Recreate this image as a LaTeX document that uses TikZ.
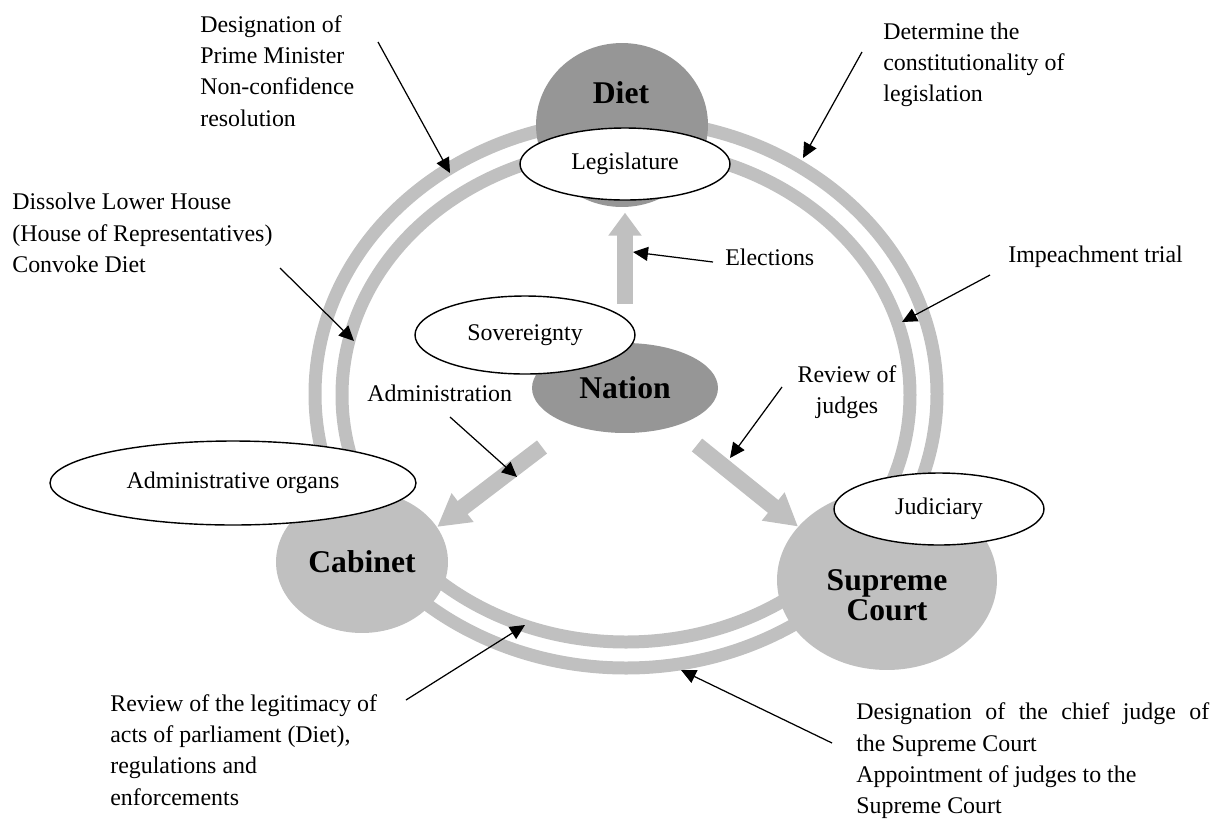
\documentclass[tikz,border=0pt]{standalone}
\usepackage{fontspec}
\setmainfont{Liberation Serif}
\usetikzlibrary{arrows.meta,shapes.geometric}

\definecolor{organdark}{RGB}{150,150,150}
\definecolor{organlight}{RGB}{192,192,192}

\tikzset{
  organ/.style={ellipse, inner sep=0pt, fill=#1, font=\fontsize{18}{17}\selectfont\bfseries, align=center},
  organname/.style={inner sep=0pt, font=\fontsize{18}{17}\selectfont\bfseries, align=center},
  role/.style={ellipse, inner sep=0pt, draw, line width=0.8pt, fill=white},
  ring/.style={draw=organlight, line width=0.26cm},
  power/.style={draw=organlight, line width=0.33cm, -{Triangle[length=0.64cm,width=0.68cm]}},
  note/.style={line width=0.7pt, -{Triangle[length=0.3cm,width=0.28cm]}},
  remark/.style={inner sep=0pt, align=left, anchor=west},
}

\begin{document}
\begin{tikzpicture}[x=0.02cm, y=-0.02cm, font=\fontsize{13.6}{17.8}\selectfont]
	\useasboundingbox (0,0) rectangle (1215,819);
	% the two rings
	\draw[ring] (626,394) ellipse [x radius=311, y radius=274];
	\draw[ring] (626,395) ellipse [x radius=284, y radius=247];
	% organs
	\node[organ=organdark, minimum width=3.44cm, minimum height=3.28cm] (diet) at (622,125) {};
	\node[organname] (dietname) at (621,93) {Diet};
	\node[organ=organlight, minimum width=3.44cm, minimum height=2.84cm] (cabinet) at (362,562) {Cabinet};
	\node[organ=organlight, minimum width=4.4cm, minimum height=3.6cm] (court) at (887,580) {};
	\node[organname] (courtname) at (887,595) {Supreme\\Court};
	\node[organ=organdark, minimum width=3.72cm, minimum height=1.8cm] (nation) at (625,388) {Nation};
	% roles
	\node[role, minimum width=4.2cm, minimum height=1.44cm] (legislature) at (625,164) {Legislature};
	\node[role, minimum width=4.4cm, minimum height=1.56cm] (sovereignty) at (525,335) {Sovereignty};
	\node[role, minimum width=7.32cm, minimum height=1.68cm] (adminorgans) at (233,483) {Administrative organs};
	\node[role, minimum width=4.2cm, minimum height=1.44cm] (judiciary) at (939,509) {Judiciary};
	% powers of the nation
	\coordinate (admtail) at (542,447);
	\coordinate (judgetail) at (697,445);
	\draw[power, line width=0.32cm, -{Triangle[length=0.46cm,width=0.64cm]}, shorten <=0.78cm, shorten >=0.24cm] (nation) -- (legislature);
	\draw[power] (admtail) -- (cabinet.25);
	\draw[power] (judgetail) -- (court.149);
	% texts
	\node[remark] (pmtext) at (200,71) {Designation of\\Prime Minister\\Non-confidence\\resolution};
	\node[remark] (dissolvetext) at (12,233) {Dissolve Lower House\\(House of Representatives)\\Convoke Diet};
	\node[remark] (lawtext) at (883,65) {Determine the\\constitutionality of\\legislation};
	\node[remark] (electtext) at (725,257) {Elections};
	\node[remark] (impeachtext) at (1008,257) {Impeachment trial};
	\node[remark] (admintext) at (367,393) {Administration};
	\node[remark, anchor=center, align=center] (judgestext) at (847,392) {Review of\\judges};
	\node[remark] (legitimacytext) at (110,750) {Review of the legitimacy of\\acts of parliament (Diet),\\regulations and\\enforcements};
	\node[remark] (chieftext) at (856,761) {\makebox[7.06cm][s]{Designation of the chief judge of}\\the Supreme Court\\Appointment of judges to the\\Supreme Court};
	% arrows to the rings
	\coordinate (pmtail) at (378,42);
	\coordinate (pmtip) at (450,173);
	\coordinate (dissolvetail) at (280,268);
	\coordinate (dissolvetip) at (354,341);
	\coordinate (lawtail) at (862,52);
	\coordinate (lawtip) at (803,158);
	\coordinate (electtail) at (713,262);
	\coordinate (electtip) at (633,252);
	\coordinate (impeachtail) at (990,275);
	\coordinate (impeachtip) at (902,322);
	\coordinate (admintail) at (450,417);
	\coordinate (admintip) at (517,477);
	\coordinate (judgestail) at (782,387);
	\coordinate (judgestip) at (730,458);
	\coordinate (legitimacytail) at (406,700);
	\coordinate (legitimacytip) at (525,625);
	\coordinate (chieftail) at (832,743);
	\coordinate (chieftip) at (681,670);
	\draw[note] (pmtail) -- (pmtip);
	\draw[note] (dissolvetail) -- (dissolvetip);
	\draw[note] (lawtail) -- (lawtip);
	\draw[note] (electtail) -- (electtip);
	\draw[note] (impeachtail) -- (impeachtip);
	\draw[note] (admintail) -- (admintip);
	\draw[note] (judgestail) -- (judgestip);
	\draw[note] (legitimacytail) -- (legitimacytip);
	\draw[note] (chieftail) -- (chieftip);
\end{tikzpicture}
\end{document}
